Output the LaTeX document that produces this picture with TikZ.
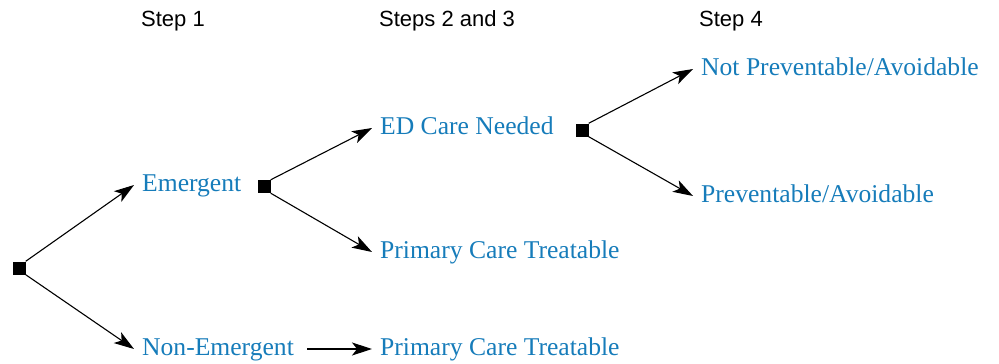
\documentclass[tikz,border=0pt]{standalone}
\usepackage{fontspec}
\setmainfont{Liberation Serif}
\newfontfamily\stepfont{Liberation Sans}
\usetikzlibrary{arrows.meta}
\definecolor{lblue}{RGB}{22,124,186}
\tikzset{
  lbl/.style={anchor=base west, text=lblue, font=\fontsize{25.6}{30}\selectfont,
    inner xsep=8pt, inner ysep=0pt, text height=17pt, text depth=5pt},
  hdr/.style={anchor=base west, font=\stepfont\fontsize{22}{26}\selectfont, inner sep=0pt},
  dot/.style={fill=black, minimum size=13pt, inner sep=0pt},
  arr/.style={-{Stealth[length=20pt,width=13pt,inset=5pt]}, line width=1.1pt},
}
\begin{document}
\begin{tikzpicture}[x=1pt,y=-1pt]
\useasboundingbox (0,0) rectangle (999,364);
\node[hdr] (h1) at (141,27) {Step 1};
\node[hdr] (h2) at (379,27) {Steps 2 and 3};
\node[hdr] (h3) at (699,27) {Step 4};

\node[dot] (r) at (19,268) {};
\node[dot] (s2) at (264,186.5) {};
\node[dot] (s3) at (582,130) {};

\node[lbl] (emg) at (134,191) {Emergent};
\node[lbl] (nem) at (134,355) {Non-Emergent};
\node[lbl] (ed) at (372,134) {ED Care Needed};
\node[lbl] (pct1) at (372,258) {Primary Care Treatable};
\node[lbl] (pct2) at (372,355) {Primary Care Treatable};
\node[lbl] (np) at (693,75) {Not Preventable/Avoidable};
\node[lbl] (pa) at (693,202) {Preventable/Avoidable};

\draw[arr] (r.north east) -- (emg.west);
\draw[arr] (r.south east) -- (nem.west);
\draw[arr] (s2.north east) -- (ed.west);
\draw[arr] (s2.south east) -- (pct1.west);
\draw[arr] (s3.north east) -- (np.west);
\draw[arr] (s3.south east) -- (pa.west);
\draw[arr, shorten <=5pt] (nem.east) -- (pct2.west);
\end{tikzpicture}
\end{document}
